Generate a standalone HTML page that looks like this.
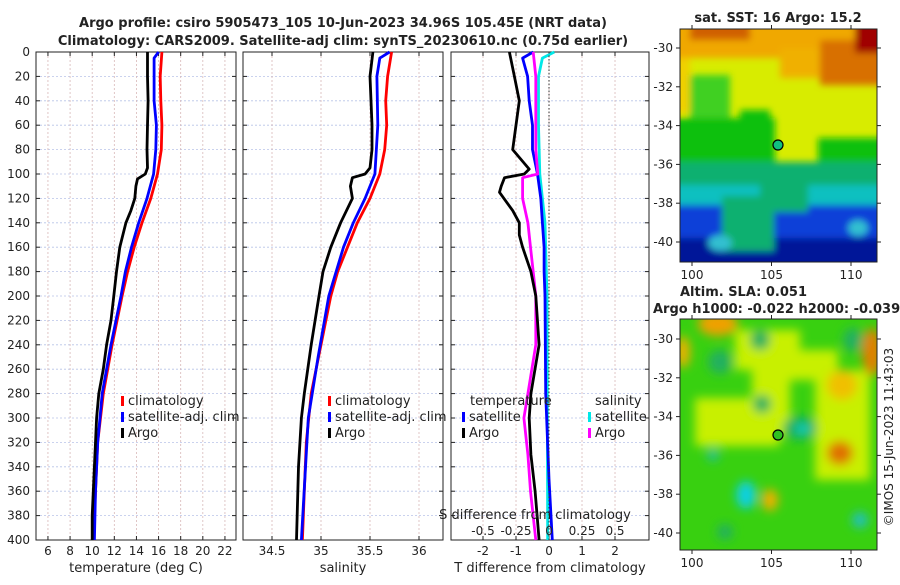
<!DOCTYPE html>
<html><head><meta charset="utf-8">
<style>
html,body{margin:0;padding:0;background:#fff;}
svg text{font-family:"DejaVu Sans","Liberation Sans",sans-serif;fill:#222;}
</style></head>
<body>
<svg id="chart" width="900" height="580" viewBox="0 0 900 580" xmlns="http://www.w3.org/2000/svg">
<defs>
<filter id="blur1" filterUnits="userSpaceOnUse" x="650" y="0" width="260" height="290"><feGaussianBlur stdDeviation="3.5"/></filter>
<filter id="blur2" filterUnits="userSpaceOnUse" x="650" y="290" width="260" height="290"><feGaussianBlur stdDeviation="5"/></filter>
<clipPath id="clipMap1"><rect x="680" y="29" width="197" height="233"/></clipPath>
<clipPath id="clipMap2"><rect x="680" y="319" width="197" height="231"/></clipPath>
</defs>
<text x="343" y="27" text-anchor="middle" font-size="13" font-weight="bold">Argo profile: csiro 5905473_105 10-Jun-2023 34.96S 105.45E (NRT data)</text>
<text x="343" y="45" text-anchor="middle" font-size="13" font-weight="bold">Climatology: CARS2009. Satellite-adj clim: synTS_20230610.nc (0.75d earlier)</text>
<g id="panels"></g>

<!-- SST map -->
<text x="778" y="22" text-anchor="middle" font-size="13" font-weight="bold">sat. SST: 16 Argo: 15.2</text>
<g clip-path="url(#clipMap1)">
<rect x="680" y="29" width="197" height="233" fill="#d8ec00"/>
<g filter="url(#blur1)">
<rect x="660" y="10" width="240" height="48" fill="#f0a800"/>
<rect x="690" y="20" width="60" height="20" fill="#d06000"/>
<rect x="780" y="48" width="110" height="30" fill="#f0b000"/>
<rect x="820" y="40" width="70" height="45" fill="#d87000"/>
<rect x="855" y="20" width="35" height="33" fill="#a00000"/>
<rect x="660" y="58" width="30" height="55" fill="#f0d000"/>
<rect x="690" y="75" width="40" height="50" fill="#40d020"/>
<rect x="660" y="118" width="115" height="52" fill="#10c010"/>
<rect x="740" y="110" width="30" height="20" fill="#10c010"/>
<rect x="818" y="138" width="80" height="45" fill="#10c010"/>
<rect x="660" y="162" width="240" height="35" fill="#10b070"/>
<rect x="660" y="185" width="240" height="25" fill="#10c0c0"/>
<rect x="660" y="205" width="240" height="70" fill="#1040d8"/>
<rect x="660" y="238" width="240" height="30" fill="#001898"/>
<rect x="722" y="196" width="52" height="55" fill="#10b070"/>
<rect x="760" y="170" width="48" height="42" fill="#10b070"/>
<ellipse cx="858" cy="228" rx="10" ry="8" fill="#30c0d0"/>
<ellipse cx="720" cy="243" rx="12" ry="8" fill="#30c0d0"/>
</g>
</g>
<rect x="680" y="29" width="197" height="233" fill="none" stroke="#222" stroke-width="1"/>
<circle cx="778" cy="145" r="5" fill="#10c080" stroke="#000" stroke-width="1.2"/>
<g id="map1axes"></g>

<!-- SLA map -->
<text x="680" y="296" font-size="13" font-weight="bold">Altim. SLA: 0.051</text>
<text x="653" y="313" font-size="13" font-weight="bold">Argo h1000: -0.022 h2000: -0.039</text>
<g clip-path="url(#clipMap2)">
<rect x="680" y="319" width="197" height="231" fill="#38d010"/>
<g filter="url(#blur2)">
<rect x="735" y="330" width="65" height="40" fill="#c8f000"/>
<rect x="752" y="360" width="38" height="75" fill="#c8f000"/>
<rect x="695" y="398" width="85" height="48" fill="#c8f000"/>
<rect x="778" y="350" width="60" height="30" fill="#c8f000"/>
<rect x="815" y="370" width="55" height="110" fill="#c8f000"/>
<ellipse cx="718" cy="324" rx="20" ry="12" fill="#f0a000"/>
<ellipse cx="872" cy="352" rx="10" ry="24" fill="#e08000"/>
<ellipse cx="683" cy="352" rx="7" ry="16" fill="#f0b000"/>
<ellipse cx="842" cy="385" rx="15" ry="15" fill="#f0c000"/>
<ellipse cx="840" cy="453" rx="13" ry="12" fill="#e07000"/>
<ellipse cx="800" cy="428" rx="17" ry="12" fill="#10b060"/>
<ellipse cx="803" cy="429" rx="7" ry="5" fill="#20d0c0"/>
<ellipse cx="746" cy="495" rx="10" ry="14" fill="#10d0e0"/>
<ellipse cx="713" cy="455" rx="6" ry="6" fill="#20c0a0"/>
<ellipse cx="860" cy="520" rx="8" ry="8" fill="#20c0c0"/>
<ellipse cx="770" cy="500" rx="8" ry="11" fill="#f0b000"/>
<ellipse cx="720" cy="362" rx="12" ry="12" fill="#20b060"/>
<ellipse cx="760" cy="340" rx="10" ry="10" fill="#20b060"/>
<ellipse cx="762" cy="404" rx="9" ry="9" fill="#20b060"/>
<ellipse cx="853" cy="340" rx="10" ry="12" fill="#20b060"/>
<ellipse cx="725" cy="532" rx="8" ry="8" fill="#20b060"/>
</g>
</g>
<rect x="680" y="319" width="197" height="231" fill="none" stroke="#222" stroke-width="1"/>
<circle cx="778" cy="435" r="5" fill="#30c020" stroke="#000" stroke-width="1.2"/>
<g id="map2axes"></g>
<text transform="translate(893,437) rotate(-90)" text-anchor="middle" font-size="12">©IMOS 15-Jun-2023 11:43:03</text>

<script>
// ---------- data ----------
const depthTicks = [0,20,40,60,80,100,120,140,160,180,200,220,240,260,280,300,320,340,360,380,400];
const tempTicks = [6,8,10,12,14,16,18,20,22];
const salTicks = [34.5,35,35.5,36];
const tDiffTicks = [-2,-1,0,1,2];
const sDiffTicks = [-0.5,-0.25,0,0.25,0.5];
const sDiffTickLabels = ["-0.5","-0.25","0","0.25","0.5"];

const argoTDepth = [0,20,40,60,80,95,100,104,110,120,130,140,160,180,200,220,240,260,280,300,320,340,360,380,400];
const argoT      = [15.0,15.0,15.05,15.0,14.95,15.0,14.8,14.1,13.95,13.85,13.5,13.05,12.5,12.2,11.95,11.7,11.3,11.0,10.6,10.4,10.3,10.2,10.1,10.0,10.0];
const climTDepth = [0,20,40,60,80,100,120,140,160,180,200,240,280,320,360,400];
const climT      = [16.3,16.15,16.2,16.3,16.25,15.9,15.3,14.5,13.8,13.2,12.7,11.8,11.0,10.5,10.3,10.1];
const satTDepth  = [0,5,20,40,60,80,100,120,140,160,180,200,240,280,320,360,400];
const satT       = [16.0,15.6,15.6,15.6,15.8,15.75,15.55,14.95,14.2,13.55,13.0,12.6,11.7,10.9,10.5,10.3,10.2];

const argoSDepth = [0,20,40,60,80,95,100,103,110,120,140,160,180,200,240,280,300,340,400];
const argoS      = [35.53,35.5,35.51,35.52,35.52,35.5,35.45,35.32,35.3,35.32,35.2,35.1,35.02,34.98,34.9,34.83,34.8,34.77,34.75];
const climSDepth = [0,20,40,60,80,100,120,140,160,180,200,240,280,320,360,400];
const climS      = [35.72,35.68,35.66,35.67,35.65,35.6,35.5,35.37,35.27,35.17,35.1,35.0,34.9,34.85,34.83,34.81];
const satSDepth  = [0,5,20,60,100,120,140,160,200,250,300,400];
const satS       = [35.7,35.6,35.57,35.58,35.55,35.45,35.33,35.23,35.08,34.97,34.87,34.8];

const dTArgoDepth = [0,20,40,60,80,96,100,103,110,115,130,140,150,160,180,200,240,280,300,330,360,390,400];
const dTArgo      = [-1.2,-1.05,-0.9,-1.0,-1.1,-0.6,-0.75,-1.35,-1.45,-1.5,-1.1,-0.9,-0.9,-0.8,-0.55,-0.4,-0.3,-0.55,-0.6,-0.55,-0.42,-0.33,-0.3];
const dTSatDepth  = [0,5,20,40,60,80,100,120,140,160,180,200,280,350,400];
const dTSat       = [-0.48,-0.8,-0.65,-0.6,-0.5,-0.5,-0.35,-0.25,-0.2,-0.15,-0.15,-0.12,-0.1,0.0,0.1];
const dSArgoDepth = [0,20,40,80,100,103,120,140,160,180,200,240,280,300,330,360,400];
const dSArgo      = [-0.12,-0.1,-0.1,-0.1,-0.085,-0.2,-0.2,-0.16,-0.14,-0.12,-0.1,-0.1,-0.16,-0.19,-0.16,-0.14,-0.1];
const dSSatDepth  = [0,5,20,60,100,140,200,400];
const dSSat       = [0.04,-0.05,-0.08,-0.08,-0.07,-0.03,-0.015,-0.01];

const mapLatTicks = [-30,-32,-34,-36,-38,-40];
const mapLonTicks = [100,105,110];

// ---------- helpers ----------
const NS = "http://www.w3.org/2000/svg";
const root = document.getElementById('panels');
function mk(tag, attrs, parent){
  const e = document.createElementNS(NS, tag);
  for (const k in attrs) e.setAttribute(k, attrs[k]);
  (parent||root).appendChild(e);
  return e;
}
const top0 = 52, bot0 = 540;
function yScale(d){ return top0 + (d/400)*(bot0-top0); }

const panels = [
  {name:'temperature', x0:36, x1:236, vmin:4.92, vmax:23.0, ticks:tempTicks, labels:tempTicks.map(String), title:'temperature (deg C)'},
  {name:'salinity', x0:243, x1:443, vmin:34.204, vmax:36.245, ticks:salTicks, labels:salTicks.map(String), title:'salinity'},
  {name:'difference', x0:451, x1:649, vmin:-2.97, vmax:3.03, ticks:tDiffTicks, labels:tDiffTicks.map(String), title:'T difference from climatology'}
];
function xs(p, v){ return p.x0 + (v-p.vmin)/(p.vmax-p.vmin)*(p.x1-p.x0); }

panels.forEach((p,pi)=>{
  const g = mk('g',{});
  
  
  depthTicks.forEach(d=>{
    const l = mk('line',{x1:p.x0,x2:p.x1,y1:yScale(d),y2:yScale(d),stroke:'#b8c4e8','stroke-width':0.8,'stroke-dasharray':'2,2'},g);
    
    
    mk('line',{x1:p.x0,x2:p.x0+4,y1:yScale(d),y2:yScale(d),stroke:'#222'},g);
    mk('line',{x1:p.x1-4,x2:p.x1,y1:yScale(d),y2:yScale(d),stroke:'#222'},g);
  });
  p.ticks.forEach((t,i)=>{
    const x = xs(p,t);
    const l = mk('line',{x1:x,x2:x,y1:top0,y2:bot0,stroke:'#d8b8b8','stroke-width':0.8,'stroke-dasharray':'2,2'},g);
    
    
    mk('line',{x1:x,x2:x,y1:bot0-4,y2:bot0,stroke:'#222'},g);
    mk('line',{x1:x,x2:x,y1:top0,y2:top0+4,stroke:'#222'},g);
    const tx = mk('text',{x:x,y:555,'text-anchor':'middle','font-size':12},g);
    tx.textContent = p.labels[i];
    
    
  });
  const fr = mk('rect',{x:p.x0,y:top0,width:p.x1-p.x0,height:bot0-top0,fill:'none',stroke:'#222','stroke-width':1},g);
  
  
  const tt = mk('text',{x:(p.x0+p.x1)/2,y:572,'text-anchor':'middle','font-size':13},g);
  tt.textContent = p.title;
  
  
  p.g = g;
});

depthTicks.forEach(d=>{
  const t = mk('text',{x:30,y:yScale(d)+4,'text-anchor':'end','font-size':12});
  t.textContent = d;
  
  
});

const zl = mk('line',{x1:xs(panels[2],0),x2:xs(panels[2],0),y1:top0,y2:bot0,stroke:'#333','stroke-width':1,'stroke-dasharray':'1.5,2'});



function series(p, depths, vals, color, name, conv){
  const pts = depths.map((d,i)=>{
    const v = conv ? conv(vals[i]) : vals[i];
    return xs(p,v).toFixed(1)+','+yScale(d).toFixed(1);
  }).join(' ');
  const pl = mk('polyline',{points:pts,fill:'none',stroke:color,'stroke-width':2.8,'stroke-linejoin':'round'},p.g);
  
  
}
const P=panels;
series(P[0], climTDepth, climT, '#ff0000', 'climatology-temperature-line');
series(P[0], satTDepth, satT, '#0000ff', 'satellite-temperature-line');
series(P[0], argoTDepth, argoT, '#000000', 'argo-temperature-line');
series(P[1], climSDepth, climS, '#ff0000', 'climatology-salinity-line');
series(P[1], satSDepth, satS, '#0000ff', 'satellite-salinity-line');
series(P[1], argoSDepth, argoS, '#000000', 'argo-salinity-line');
series(P[2], dSSatDepth, dSSat, '#00e8e8', 'satellite-salinity-diff-line', v=>v*4);
series(P[2], dTSatDepth, dTSat, '#0000ff', 'satellite-temperature-diff-line');
series(P[2], dSArgoDepth, dSArgo, '#ff00ff', 'argo-salinity-diff-line', v=>v*4);
series(P[2], dTArgoDepth, dTArgo, '#000000', 'argo-temperature-diff-line');

const sdt = mk('text',{x:535,y:519,'text-anchor':'middle','font-size':13});
sdt.textContent = 'S difference from climatology';


sDiffTicks.forEach((s,i)=>{
  const t = mk('text',{x:xs(P[2],s*4),y:535,'text-anchor':'middle','font-size':12});
  t.textContent = sDiffTickLabels[i];
  
  
});

function legendEntry(x,y,color,label,name){
  if (color){
    const r = mk('rect',{x:x,y:y-9,width:3,height:10,fill:color});
    
    
  }
  const t = mk('text',{x:color?x+7:x,y:y,'font-size':13});
  t.textContent = label;
  
  
}
[[121,'temp'],[328,'sal']].forEach(([x,n])=>{
  legendEntry(x,405,'#ff0000','climatology','legend-'+n+'-climatology');
  legendEntry(x,421,'#0000ff','satellite-adj. clim','legend-'+n+'-satellite');
  legendEntry(x,437,'#000000','Argo','legend-'+n+'-argo');
});
legendEntry(470,405,null,'temperature','legend-diff-temperature-header');
legendEntry(462,421,'#0000ff','satellite','legend-diff-temp-satellite');
legendEntry(462,437,'#000000','Argo','legend-diff-temp-argo');
legendEntry(595,405,null,'salinity','legend-diff-salinity-header');
legendEntry(588,421,'#00e8e8','satellite','legend-diff-sal-satellite');
legendEntry(588,437,'#ff00ff','Argo','legend-diff-sal-argo');

function mapAxes(id, yTop, y30, yBot, name){
  const g = document.getElementById(id);
  const latY = lat => y30 + (-30-lat)*19.4;
  const lonX = lon => 692 + (lon-100)*15.9;
  mapLatTicks.forEach(l=>{
    const y = latY(l);
    mk('line',{x1:676,x2:680,y1:y,y2:y,stroke:'#222'},g);
    mk('line',{x1:877,x2:881,y1:y,y2:y,stroke:'#222'},g);
    const t = mk('text',{x:673,y:y+4,'text-anchor':'end','font-size':12},g);
    t.textContent = l;
    
    
  });
  mapLonTicks.forEach(l=>{
    const x = lonX(l);
    mk('line',{x1:x,x2:x,y1:yBot,y2:yBot+4,stroke:'#222'},g);
    mk('line',{x1:x,x2:x,y1:yTop-4,y2:yTop,stroke:'#222'},g);
    const t = mk('text',{x:x,y:yBot+17,'text-anchor':'middle','font-size':12},g);
    t.textContent = l;
    
    
  });
}
mapAxes('map1axes', 29, 48, 262, 'sst-map');
mapAxes('map2axes', 319, 339, 550, 'sla-map');
</script>
</svg>
</body></html>
